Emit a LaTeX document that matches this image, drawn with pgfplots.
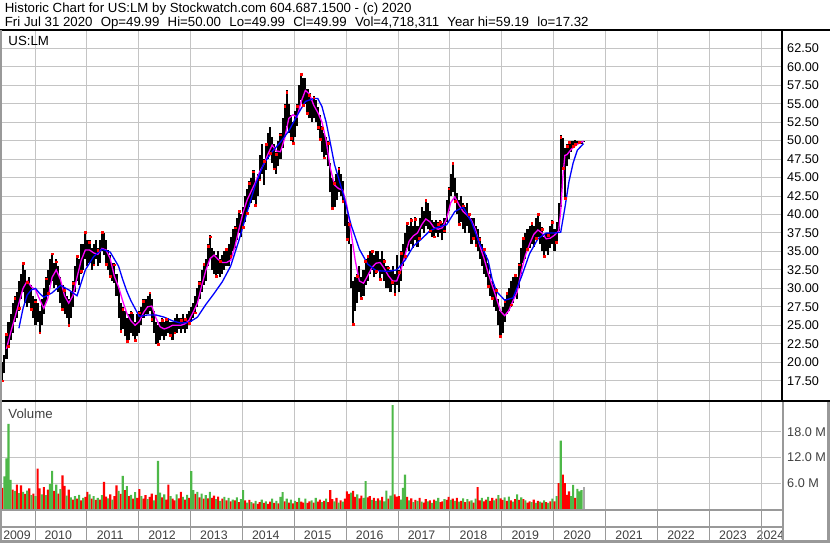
\documentclass[border=0pt]{standalone}
\usepackage{fontspec}
\setmainfont{Liberation Sans}
\usepackage{pgfplots}
\usepackage{pgfplotstable}
\pgfplotsset{compat=1.18}
\definecolor{gridgray}{HTML}{C4C4C4}
\definecolor{framegray}{HTML}{999999}
\definecolor{volgreen}{HTML}{4DB848}
\definecolor{volred}{HTML}{FF0000}
\definecolor{volgray}{HTML}{A8A8A8}
\definecolor{labgray}{HTML}{404040}
\definecolor{mablue}{HTML}{0000FF}
\definecolor{mamag}{HTML}{FF00FF}

% price bars: bar index (about two weeks each), low, high
\pgfplotstableread{
i lo hi
0 17.32 20.0
1 18.5 21.0
2 20.5 24.0
3 22.0 25.5
4 23.0 26.5
5 24.0 28.0
6 25.5 29.0
7 26.0 29.5
8 27.0 31.0
9 28.5 32.0
10 29.5 33.5
11 28.0 32.5
12 27.5 31.0
13 28.0 31.5
14 27.0 30.5
15 26.0 29.0
16 25.0 28.5
17 25.5 28.0
18 23.9 27.0
19 25.0 28.5
20 26.5 30.0
21 28.0 31.5
22 29.0 32.5
23 30.5 34.0
24 31.0 34.8
25 30.0 33.5
26 30.5 34.0
27 29.5 33.0
28 28.0 31.5
29 27.0 30.5
30 26.5 30.0
31 26.0 29.0
32 24.8 28.5
33 26.0 29.5
34 27.5 31.0
35 29.5 33.0
36 31.0 34.5
37 30.5 34.0
38 32.0 36.0
39 32.5 36.0
40 34.0 37.7
41 33.0 36.5
42 33.5 36.5
43 32.5 35.5
44 33.0 36.0
45 34.0 36.5
46 33.0 35.5
47 33.5 36.5
48 35.0 37.7
49 34.5 37.5
50 33.0 36.5
51 32.5 35.2
52 31.5 34.5
53 31.0 33.5
54 30.7 33.5
55 29.0 32.0
56 26.0 30.0
57 24.0 28.0
58 24.5 27.5
59 23.5 27.0
60 22.6 26.0
61 23.0 26.5
62 24.0 27.0
63 23.5 26.5
64 22.8 25.5
65 23.5 26.5
66 24.0 27.0
67 25.0 27.5
68 26.0 28.5
69 26.5 28.5
70 26.5 29.0
71 27.0 29.5
72 25.5 28.5
73 24.0 27.0
74 22.5 25.5
75 22.2 25.0
76 23.0 25.5
77 23.5 26.0
78 23.0 25.5
79 23.5 26.0
80 24.0 26.0
81 23.5 25.5
82 23.0 25.5
83 23.8 26.0
84 24.0 26.5
85 24.5 26.0
86 24.0 26.0
87 24.5 26.5
88 24.0 26.0
89 24.5 26.5
90 25.0 27.0
91 25.5 27.5
92 26.0 28.0
93 26.5 29.0
94 27.5 30.0
95 28.5 31.0
96 29.5 32.5
97 30.5 33.5
98 31.0 34.0
99 33.0 36.0
100 34.0 37.2
101 32.5 35.5
102 32.0 35.0
103 31.5 34.5
104 32.0 35.0
105 31.5 34.0
106 32.0 34.5
107 32.5 35.0
108 33.0 35.5
109 33.0 36.0
110 34.0 37.0
111 35.0 38.0
112 35.5 38.5
113 36.5 39.5
114 37.5 40.6
115 37.0 40.0
116 38.0 41.0
117 39.0 42.5
118 40.0 43.5
119 41.0 44.5
120 41.5 45.0
121 42.0 46.0
122 41.0 44.5
123 42.5 45.5
124 44.5 48.0
125 45.5 49.5
126 44.0 47.5
127 46.0 49.7
128 47.5 51.0
129 48.0 51.8
130 47.0 50.5
131 46.0 49.5
132 45.5 48.5
133 46.5 50.0
134 47.5 51.0
135 49.0 53.0
136 50.5 55.0
137 52.0 56.8
138 51.0 55.0
139 50.0 53.5
140 49.5 52.5
141 50.5 54.0
142 52.0 55.0
143 54.0 57.5
144 55.5 59.19
145 54.5 58.5
146 55.0 58.5
147 53.5 57.0
148 53.0 56.5
149 52.5 55.5
150 53.0 56.0
151 52.5 55.5
152 51.5 54.5
153 50.0 53.5
154 48.5 52.0
155 47.5 51.0
156 48.0 50.5
157 46.5 50.0
158 43.0 47.0
159 40.6 45.0
160 41.0 44.5
161 42.0 45.5
162 43.0 46.4
163 42.5 45.5
164 41.5 44.5
165 38.5 42.0
166 36.5 40.0
167 36.0 39.0
168 30.0 36.0
169 25.0 31.0
170 27.0 31.5
171 28.0 32.0
172 29.5 33.0
173 28.5 31.5
174 29.0 32.5
175 30.5 34.0
176 31.0 34.5
177 32.0 35.0
178 32.5 35.2
179 31.5 34.5
180 32.0 35.0
181 32.5 35.0
182 31.0 34.0
183 32.0 35.0
184 31.0 34.0
185 30.0 33.0
186 30.0 33.0
187 29.5 32.5
188 30.5 33.0
189 29.0 32.0
190 30.5 34.5
191 29.5 32.5
192 31.0 35.0
193 33.0 36.0
194 34.0 37.5
195 35.5 39.0
196 35.0 38.5
197 36.0 39.5
198 35.5 38.5
199 36.5 39.6
200 35.6 38.5
201 36.5 39.5
202 38.0 41.0
203 37.5 40.5
204 38.5 42.1
205 38.0 41.5
206 37.5 40.5
207 37.0 39.2
208 36.8 39.0
209 37.5 39.2
210 37.0 39.0
211 37.5 39.2
212 36.5 38.8
213 37.5 39.5
214 39.0 42.0
215 40.5 43.7
216 42.5 45.5
217 43.0 47.1
218 41.5 45.0
219 40.0 42.9
220 38.5 42.0
221 39.0 42.5
222 38.0 41.5
223 37.5 41.0
224 38.5 41.5
225 37.5 40.2
226 36.0 39.5
227 36.5 39.5
228 35.6 38.5
229 35.0 38.0
230 34.0 37.0
231 33.0 36.0
232 32.0 35.5
233 31.5 34.5
234 30.0 33.5
235 29.0 32.0
236 28.5 31.0
237 27.5 30.5
238 27.0 30.0
239 25.0 28.5
240 23.3 27.0
241 24.0 27.5
242 25.5 28.5
243 26.5 29.5
244 27.0 30.0
245 27.5 31.0
246 28.0 31.5
247 29.0 32.0
248 28.5 31.5
249 30.0 33.5
250 32.0 35.5
251 33.5 37.0
252 34.0 37.5
253 35.0 38.0
254 35.5 38.5
255 36.0 39.0
256 35.6 38.5
257 36.5 39.5
258 37.0 40.2
259 36.0 39.0
260 35.0 38.3
261 34.2 37.0
262 35.0 37.5
263 34.5 37.5
264 35.5 38.5
265 36.0 39.2
266 35.0 38.0
267 36.0 39.0
268 37.8 41.5
269 41.0 50.7
270 46.0 50.3
271 42.0 49.0
272 46.5 49.5
273 47.5 50.0
274 48.5 50.0
275 49.0 50.0
276 49.3 50.1
277 49.4 50.0
278 49.5 50.0
279 49.6 50.0
280 49.99 50.0
}\pricetab

\pgfplotstableread{
i v
0 17.5
2 23.8
3 22.2
6 28.7
8 27.3
10 33.4
12 30.8
14 27.2
16 28.2
18 24.0
21 31.3
22 29.3
24 34.7
26 33.6
29 27.2
30 29.7
32 25.0
34 30.7
36 34.3
38 32.3
40 37.6
42 36.2
44 33.2
46 35.2
48 37.6
50 33.3
52 31.7
54 33.2
57 24.2
58 27.2
60 22.8
62 26.7
64 23.0
66 26.7
68 28.3
71 29.4
72 25.8
75 22.4
77 25.7
79 25.8
81 23.7
83 24.0
86 25.7
88 25.8
90 25.3
93 26.7
95 30.7
97 33.3
99 35.7
100 37.0
103 31.7
105 33.7
108 35.3
110 34.3
112 38.2
114 40.4
116 38.3
118 40.2
119 44.2
121 45.8
122 41.3
124 44.7
126 47.2
127 49.5
129 48.3
131 46.2
132 48.2
134 50.8
136 54.7
137 56.6
139 50.3
140 49.7
142 54.7
144 59.0
145 54.8
147 53.7
148 56.2
150 55.8
152 51.8
153 50.2
154 51.7
155 47.7
157 49.7
159 40.8
160 44.2
162 46.2
164 41.8
166 36.7
167 38.7
169 25.2
171 31.7
173 28.7
175 33.7
176 34.3
178 35.0
180 32.3
182 31.2
184 33.7
186 32.8
188 30.8
189 29.2
191 32.2
192 34.8
194 34.3
195 38.8
197 39.2
199 39.4
201 36.8
204 41.9
206 37.8
208 37.0
210 38.7
211 39.0
213 37.8
215 43.5
217 46.9
218 41.8
220 38.7
222 41.2
225 40.0
227 36.8
228 35.8
230 36.7
232 35.3
234 30.3
236 28.7
238 29.7
240 23.5
242 28.2
243 29.3
245 27.8
247 31.8
249 33.2
251 36.8
253 35.3
255 38.8
257 36.8
258 40.0
260 38.0
261 34.4
263 37.2
265 39.0
267 36.3
269 50.5
270 46.3
271 42.2
272 49.2
273 49.8
275 49.2
276 49.5
278 49.8
}\redtab

\pgfplotstableread{
i v
2 21.8
4 24
6 26
8 28
10 30
12 31
14 30.2
16 29.8
18 28.5
20 27.3
22 28.7
24 31.5
26 32.5
28 31.2
30 29
32 28
34 29
36 31.5
38 33.8
40 35.2
42 35.2
44 34.8
46 34.6
48 35.4
50 35.2
52 34
54 31.6
56 30.2
58 28.3
60 26.6
62 25.6
64 25
66 25.5
68 26.7
70 27.5
72 27.6
74 26
76 24.8
78 24.5
80 24.7
82 25
84 25
86 25
88 25.2
90 25.7
92 26.8
94 28
96 30.3
98 32.4
100 34
102 34.5
104 33.9
106 33.5
108 33.5
110 33.8
112 35.6
114 38
116 40.3
118 42
120 43.2
122 44.4
124 45.8
126 46.8
128 48.2
130 49.4
132 48.6
134 48.5
136 50.3
138 53
140 53.5
142 53.2
144 55.3
146 56.8
148 56.3
150 54.8
152 53.8
154 52.5
156 50
158 46.3
160 44
162 43.5
164 43.3
166 41.2
168 37.6
170 33.8
172 31
174 30.7
176 31.7
178 32.8
180 33.4
182 33.5
184 32.7
186 31.7
188 31
190 31
192 32.5
194 34.5
196 36.4
198 37.1
200 37.5
202 38.6
204 39.4
206 39
208 38.2
210 38
212 38.2
214 39.4
216 41.6
218 42.4
220 41.3
222 40.4
224 39.9
226 39.2
228 37.9
230 35.8
232 34.1
234 32.1
236 30.4
238 28.7
240 26.9
242 26.3
244 27
246 28.3
248 29.5
250 32.3
252 34.5
254 36
256 37.3
258 37.9
260 37.5
262 36.7
264 36.8
266 37.2
268 37.8
269 40.5
270 45
271 48
272 48.1
274 48.8
276 49.3
278 49.7
280 49.9
}\magtab

\pgfplotstableread{
i v
8 24.6
10 27.3
12 29.1
14 29.8
16 30
18 29.3
20 28.8
24 29.4
28 30.4
32 29.8
36 29
40 32.5
44 34.3
48 35.3
52 34.9
56 33
58 31.2
60 29.6
62 28.3
66 26.2
70 26.4
74 26.4
78 26.1
82 25.6
86 25.3
90 25.4
94 26.1
98 27.8
102 29.3
106 30.9
110 33
114 36.5
118 40.4
122 44.1
126 46.9
130 48.5
134 49.8
138 51.3
142 53.4
146 55.3
150 55.7
152 55.7
154 54.6
156 52.5
158 49.7
160 46.8
164 43
168 38.6
172 35.3
176 33.3
180 32.4
186 32.3
190 32.5
194 33.8
198 35.7
202 36.7
206 37.8
210 38.3
214 38.6
218 40.4
222 41
226 39
228 37.5
230 36
232 35
234 33.8
236 31.2
238 29.6
242 28.4
246 28.7
250 31.5
254 34.7
258 36.7
262 37.5
266 37.5
269 37.6
271 40.9
273 44.5
275 47
277 48.7
279 49.3
280 49.6
}\bluetab

% volume in millions; c: 0 down (red), 1 up (green), 2 current (grey)
\pgfplotstableread{
i v c
0 4.9 0
1 7.6 1
2 11.8 1
3 19.8 1
4 6.8 1
5 4.5 0
6 4.2 1
7 5.7 0
8 3.7 1
9 5.5 0
10 4.0 1
11 3.5 0
12 4.3 1
13 4.8 0
14 3.2 1
15 3.6 0
16 3.0 1
17 9.4 0
18 4.8 0
19 3.4 1
20 5.1 0
21 3.2 1
22 4.5 0
23 5.8 1
24 8.9 1
25 4.2 0
26 5.7 1
27 3.6 0
28 4.6 1
29 7.8 0
30 5.4 0
31 3.1 1
32 4.5 0
33 2.7 1
34 2.2 0
35 3.0 1
36 2.4 0
37 3.3 1
38 2.0 0
39 2.6 1
40 2.8 0
41 4.0 0
42 3.4 1
43 2.4 0
44 3.0 1
45 2.1 0
46 2.6 1
47 2.2 0
48 3.2 1
49 6.3 0
50 2.9 0
51 2.5 1
52 3.4 0
53 2.2 1
54 3.0 0
55 5.5 0
56 4.2 1
57 3.5 0
58 7.7 1
59 4.4 0
60 5.3 1
61 3.0 0
62 3.3 1
63 2.4 0
64 3.9 1
65 2.6 0
66 4.6 0
67 3.0 1
68 2.4 0
69 3.2 0
70 2.3 1
71 2.8 0
72 3.6 0
73 2.0 1
74 3.3 0
75 11.2 1
76 3.8 1
77 2.7 0
78 3.4 1
79 2.2 0
80 5.7 0
81 3.0 1
82 2.4 0
83 2.0 0
84 3.4 1
85 2.5 0
86 4.0 0
87 2.8 1
88 2.2 0
89 3.3 1
90 2.6 0
91 8.8 1
92 4.4 1
93 3.5 0
94 4.0 1
95 2.7 0
96 3.6 1
97 2.4 0
98 3.2 1
99 2.5 0
100 4.0 1
101 2.6 0
102 3.1 0
103 2.3 1
104 2.9 0
105 1.9 1
106 2.4 0
107 2.8 1
108 2.0 0
109 2.6 1
110 1.8 0
111 2.2 1
112 2.0 0
113 2.7 1
114 1.6 0
115 2.3 1
116 4.4 1
117 2.0 0
118 1.5 1
119 2.1 0
120 1.6 1
121 1.3 0
122 1.9 1
123 1.2 0
124 1.6 0
125 2.2 1
126 1.4 0
127 1.8 1
128 1.2 0
129 1.7 0
130 2.4 1
131 1.4 0
132 1.9 1
133 1.3 0
134 2.8 1
135 3.9 1
136 1.8 0
137 2.4 1
138 1.5 0
139 2.2 1
140 1.3 0
141 1.9 1
142 1.6 0
143 2.6 1
144 1.7 0
145 1.5 0
146 2.4 1
147 1.4 0
148 1.8 0
149 2.0 1
150 1.5 0
151 2.6 1
152 1.7 0
153 2.2 0
154 1.6 1
155 1.9 0
156 2.4 1
157 1.6 0
158 4.4 0
159 2.3 0
160 1.8 1
161 2.6 0
162 1.5 1
163 2.0 0
164 1.7 1
165 2.4 0
166 4.1 0
167 3.5 0
168 3.8 1
169 4.2 0
170 2.8 0
171 3.4 1
172 2.5 0
173 3.1 0
174 2.6 1
175 6.5 1
176 2.7 0
177 3.0 0
178 2.1 1
179 2.6 0
180 1.9 1
181 2.5 0
182 2.0 1
183 2.8 0
184 1.8 1
185 4.3 1
186 2.4 0
187 3.1 1
188 24.2 1
189 3.4 0
190 2.9 0
191 3.0 0
192 2.2 1
193 4.9 1
194 8.0 1
195 2.8 0
196 2.0 1
197 2.5 0
198 1.6 1
199 2.1 0
200 1.9 1
201 2.6 0
202 1.7 1
203 1.5 0
204 2.3 0
205 1.8 1
206 2.0 0
207 1.4 1
208 2.2 0
209 1.9 1
210 2.6 1
211 1.6 0
212 1.8 0
213 2.3 1
214 2.1 0
215 2.8 0
216 2.1 1
217 2.4 0
218 1.9 1
219 2.6 0
220 1.7 1
221 1.9 0
222 2.5 1
223 1.6 0
224 2.3 1
225 1.8 0
226 2.0 1
227 1.5 0
228 2.4 1
229 5.1 0
230 2.0 0
231 2.6 1
232 1.8 0
233 2.2 0
234 2.8 1
235 1.9 0
236 2.6 0
237 2.0 1
238 2.4 0
239 3.2 1
240 2.5 0
241 2.1 0
242 2.7 1
243 1.9 0
244 2.9 1
245 2.0 0
246 1.7 1
247 2.3 0
248 3.4 1
249 2.1 0
250 2.7 1
251 2.3 0
252 2.0 1
253 1.5 0
254 1.8 0
255 1.6 1
256 2.2 0
257 1.4 1
258 1.9 0
259 1.7 1
260 1.5 0
261 2.0 1
262 1.6 0
263 1.4 1
264 1.8 0
265 2.4 1
266 1.8 0
267 3.0 1
268 6.0 0
269 15.9 1
270 8.0 0
271 6.0 0
272 3.3 0
273 4.1 0
274 3.0 1
275 5.6 1
276 2.6 0
277 4.7 1
278 4.1 1
279 4.4 1
280 5.2 2
}\voltab

\begin{document}
\begin{tikzpicture}[x=1bp,y=1bp]
\useasboundingbox (0,0) rectangle (830,543);
\fill[white] (0,0) rectangle (830,543);

% ---------------- grid (pixel aligned) ----------------
\foreach \gx in {35.5,86.5,138.5,190.5,242.5,294.5,346.5,398.5,449.5,501.5,553.5,605.5,657.5,709.5,761.5} {
  \draw[gridgray, line width=1bp] (\gx,34) -- (\gx,512);
}
\foreach \gy in {162.5,180.5,199.5,217.5,236.5,254.5,273.5,291.5,310.5,328.5,346.5,365.5,383.5,402.5,420.5,439.5,457.5,476.5,494.5,59.5,85.5,111.5} {
  \draw[gridgray, line width=1bp] (2,\gy) -- (781,\gy);
}

% ---------------- price panel ----------------
\begin{axis}[
  at={(2bp,142bp)}, anchor=south west, scale only axis,
  width=780bp, height=370bp,
  xmin=-0.145, xmax=375.6, ymin=14.752, ymax=64.842,
  axis line style={draw=none}, major tick length=0pt,
  xtick=\empty,
  ytick={17.5,20,22.5,25,27.5,30,32.5,35,37.5,40,42.5,45,47.5,50,52.5,55,57.5,60,62.5},
  yticklabels={17.50,20.00,22.50,25.00,27.50,30.00,32.50,35.00,37.50,40.00,42.50,45.00,47.50,50.00,52.50,55.00,57.50,60.00,62.50},
  yticklabel pos=right,
  yticklabel style={anchor=west, inner sep=0pt, xshift=5bp, font=\fontsize{12.7}{14}\selectfont, text=black},
]
\addplot[draw=none, mark=none, forget plot,
  error bars/.cd, y dir=plus, y explicit, error mark=none,
  error bar style={draw=black, line width=2.1bp}]
  table[x=i, y=lo, y error expr=\thisrow{hi}-\thisrow{lo}] {\pricetab};
\addplot[only marks, mark=square*, mark size=0.9bp, color=red, forget plot]
  table[x=i, y=v] {\redtab};
\addplot[mamag, line width=1.3bp] table[x=i, y=v] {\magtab};
\addplot[mablue, line width=1.3bp] table[x=i, y=v] {\bluetab};
\end{axis}

% ---------------- volume panel ----------------
\begin{axis}[
  at={(2bp,34bp)}, anchor=south west, scale only axis,
  width=780bp, height=108bp,
  xmin=-0.145, xmax=375.6, ymin=0, ymax=25.14,
  axis line style={draw=none}, major tick length=0pt,
  xtick={7.08,26.95,51.95,76.95,101.95,126.95,151.95,176.95,201.95,226.95,251.95,276.95,301.95,326.95,351.95,370.0},
  xticklabels={2009,2010,2011,2012,2013,2014,2015,2016,2017,2018,2019,2020,2021,2022,2023,2024},
  xticklabel style={anchor=center, inner sep=0pt, yshift=-26bp, font=\fontsize{12.4}{14}\selectfont, text=labgray},
  ytick={6,12,18},
  yticklabels={6.0 M,12.0 M,18.0 M},
  yticklabel pos=right,
  yticklabel style={anchor=west, inner sep=0pt, xshift=5bp, font=\fontsize{12.7}{14}\selectfont, text=labgray},
]
\addplot[ybar, bar width=2.1bp, bar shift=0pt, fill=volred, draw=none,
  restrict expr to domain={\thisrow{c}}{0:0}] table[x=i, y=v] {\voltab};
\addplot[ybar, bar width=2.1bp, bar shift=0pt, fill=volgreen, draw=none,
  restrict expr to domain={\thisrow{c}}{1:1}] table[x=i, y=v] {\voltab};
\addplot[ybar, bar width=2.1bp, bar shift=0pt, fill=volgray, draw=none,
  restrict expr to domain={\thisrow{c}}{2:2}] table[x=i, y=v] {\voltab};
\end{axis}

% ---------------- frame ----------------
\draw[black, line width=2bp] (0,513) -- (830,513);
\draw[black, line width=2bp] (0,142) -- (830,142);
\draw[black, line width=2bp] (782,142) -- (782,513);
\draw[framegray, line width=2bp] (1,0) -- (1,513);
\draw[framegray, line width=2bp] (783,0) -- (783,141);
\draw[framegray, line width=3bp] (828.5,0) -- (828.5,141);
\draw[framegray, line width=3bp] (0,1.5) -- (830,1.5);
\draw[framegray, line width=2bp] (0,33) -- (783,33);
\draw[framegray, line width=2bp] (0,16) -- (783,16);
\foreach \gx in {35.5,86.5,138.5,190.5,242.5,294.5,346.5,398.5,449.5,501.5,553.5,605.5,657.5,709.5,761.5} {
  \draw[framegray, line width=1.6bp] (\gx,2) -- (\gx,33);
}

% ---------------- texts ----------------
\node[anchor=base west, inner sep=0pt, font=\fontsize{13.3}{15}\selectfont] at (4.7,530.3)
  {Historic Chart for US:LM by Stockwatch.com 604.687.1500 - (c) 2020};
\node[anchor=base west, inner sep=0pt, font=\fontsize{13.3}{15}\selectfont] at (4.7,516.3)
  {Fri Jul 31 2020\hspace{8.3bp}Op=49.99\hspace{8.3bp}Hi=50.00\hspace{8.3bp}Lo=49.99\hspace{8.3bp}Cl=49.99\hspace{8.3bp}Vol=4,718,311\hspace{8.3bp}Year hi=59.19\hspace{8.3bp}lo=17.32};
\node[anchor=base west, inner sep=0pt, font=\fontsize{13.3}{15}\selectfont] at (8.3,497) {US:LM};
\node[anchor=base west, inner sep=0pt, font=\fontsize{13.3}{15}\selectfont, text=labgray] at (8.3,124.7) {Volume};
\end{tikzpicture}
\end{document}
